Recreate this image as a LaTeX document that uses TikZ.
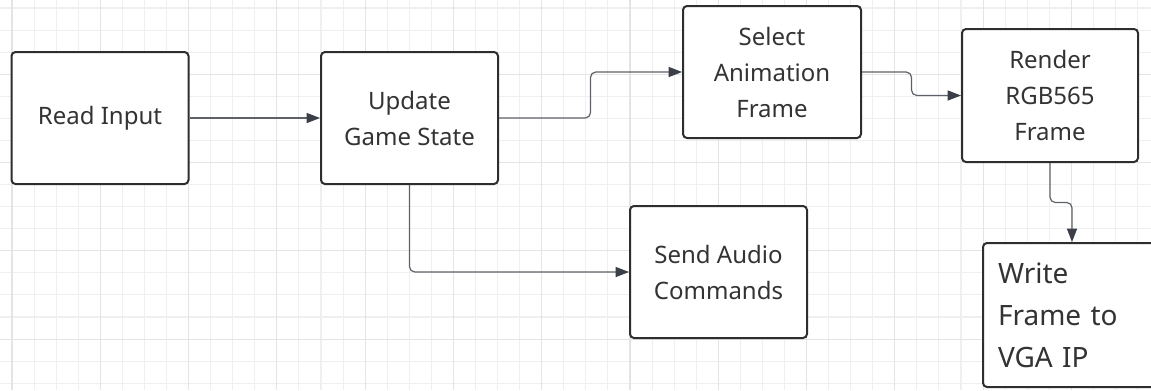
\documentclass[tikz,border=0pt]{standalone}
\usepackage{fontspec}
\setmainfont{Noto Sans}
\usetikzlibrary{arrows.meta,calc}
\newdimen\pxu \pxu=0.75pt
\definecolor{gridminor}{HTML}{EFEFEF}
\definecolor{gridmajor}{HTML}{E4E4E4}
\definecolor{boxline}{HTML}{2E2E2E}
\definecolor{txt}{HTML}{333333}
\definecolor{connline}{HTML}{5E6168}
\definecolor{arrowc}{HTML}{3B3F48}
\begin{document}
\begin{tikzpicture}[x=0.75pt,y=-0.75pt,
  stepbox/.style={draw=boxline, line width=1.5pt, rounded corners=3pt, fill=white, text=txt,
    minimum width=177\pxu, minimum height=132\pxu, align=center, inner sep=0pt,
    font=\fontsize{18pt}{27pt}\selectfont},
  link/.style={draw=connline, line width=0.9pt, rounded corners=4pt,
    -{Triangle[length=10pt,width=7.5pt,fill=arrowc,color=arrowc]}},
  gminor/.style={draw=gridminor, line width=0.8pt},
  gmajor/.style={draw=gridmajor, line width=0.8pt}]
\useasboundingbox (0,0) rectangle (1151,390);
\clip (0,0) rectangle (1151,390);
\fill[white] (0,0) rectangle (1151,390);
% grid
\foreach \k in {0,...,52} { \draw[gminor] ({12+22.07*\k},0) -- ++(0,390); }
\foreach \k in {0,...,17} { \draw[gminor] (0,{8+22.07*\k}) -- ++(1151,0); }
\foreach \k in {0,...,13} { \draw[gmajor] ({12+88.28*\k},0) -- ++(0,390); }
\foreach \k in {0,...,3} { \draw[gmajor] (0,{74.2+88.28*\k}) -- ++(1151,0); }
% nodes
\node[stepbox] (read) at (100,118) {Read Input};
\node[stepbox] (update) at (409.5,118) {Update\\Game State};
\node[stepbox, minimum width=178\pxu] (select) at (772,72) {Select\\Animation\\Frame};
\node[stepbox, minimum width=176\pxu, minimum height=133\pxu] (render) at (1050,95.5) {Render\\RGB565\\Frame};
\node[stepbox] (audio) at (718.5,272) {Send Audio\\Commands};
\node[stepbox, minimum width=178\pxu, minimum height=144\pxu, align=left, text width=148\pxu,
  font=\fontsize{21pt}{31.5pt}\selectfont] (write) at (1072,315) {Write\\Frame to\\VGA IP};
% connectors
\draw[link] (read) -- (update);
\coordinate (m1) at ($(update.east)!0.5!(select.west)$);
\draw[link] (update.east) -- (update.east -| m1) -- (m1 |- select.west) -- (select.west);
\coordinate (m2) at ($(select.east)!0.5!(render.west)$);
\draw[link] (select.east) -- (select.east -| m2) -- (m2 |- render.west) -- (render.west);
\coordinate (m3) at ($(render.south)!0.5!(write.north)$);
\draw[link] (render.south) -- (render.south |- m3) -- (m3 -| write.north) -- (write.north);
\draw[link] (update.south) |- (audio.west);
\end{tikzpicture}
\end{document}
